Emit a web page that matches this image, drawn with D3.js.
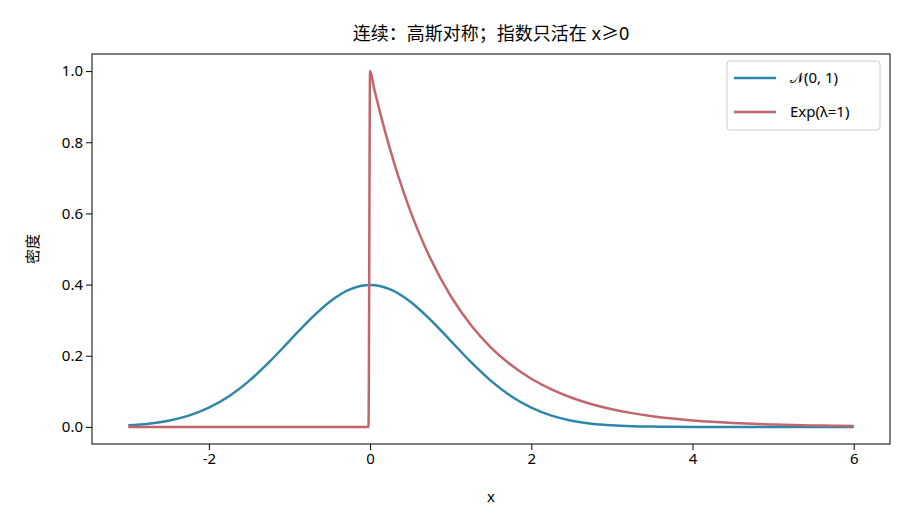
<!DOCTYPE html><html><head><meta charset="utf-8"><script src="https://d3js.org/d3.v7.min.js"></script>
<style>body{margin:0;background:#fff}text{font-family:"Noto Sans","Noto Sans CJK SC",sans-serif}</style></head><body><svg id="c" width="910" height="532"></svg><script>
const normX=[-3,-2.75,-2.5,-2.25,-2,-1.75,-1.5,-1.25,-1,-0.75,-0.5,-0.25,0,0.25,0.5,0.75,1,1.25,1.5,1.75,2,2.25,2.5,2.75,3,3.25,3.5,3.75,4,4.5,5,5.5,6];
const normY=[0.0044,0.0091,0.0175,0.0317,0.054,0.0863,0.1295,0.1826,0.242,0.3011,0.3521,0.3867,0.3989,0.3867,0.3521,0.3011,0.242,0.1826,0.1295,0.0863,0.054,0.0317,0.0175,0.0091,0.0044,0.002,0.0009,0.0004,0.0001,0,0,0,0];
const expX=[-3,-1.5,-0.02,0,0.05,0.1,0.15,0.2,0.3,0.4,0.5,0.6,0.75,1,1.25,1.5,1.75,2,2.25,2.5,2.75,3,3.25,3.5,3.75,4,4.25,4.5,4.75,5,5.25,5.5,5.75,6];
const expY=[0,0,0,1,0.9512,0.9048,0.8607,0.8187,0.7408,0.6703,0.6065,0.5488,0.4724,0.3679,0.2865,0.2231,0.1738,0.1353,0.1054,0.0821,0.0639,0.0498,0.0388,0.0302,0.0235,0.0183,0.0143,0.0111,0.0087,0.0067,0.0052,0.0041,0.0032,0.0025];
const xTicks=[-2,0,2,4,6], yTicks=[0,0.2,0.4,0.6,0.8,1.0];
const svg=d3.select("#c");
const L=92,R=890,T=54,B=444;
const x=d3.scaleLinear().domain([-3.45,6.45]).range([L,R]);
const y=d3.scaleLinear().domain([-0.048,1.048]).range([B,T]);
svg.append("g").attr("transform",`translate(0,${B})`).call(d3.axisBottom(x).tickValues(xTicks).tickFormat(d=>d<0?"-"+(-d):d).tickSizeOuter(0)).attr("font-size",15);
svg.append("g").attr("transform",`translate(${L},0)`).call(d3.axisLeft(y).tickValues(yTicks).tickFormat(d3.format(".1f")).tickSizeOuter(0)).attr("font-size",15);
svg.selectAll(".domain").remove();
svg.selectAll(".tick text").attr("fill","#000").style("font-family","'Noto Sans','DejaVu Sans',sans-serif");
svg.append("rect").attr("x",L).attr("y",T).attr("width",R-L).attr("height",B-T).attr("fill","none").attr("stroke","#000");
const line=d3.line().x(d=>x(d[0])).y(d=>y(d[1])).curve(d3.curveMonotoneX);
svg.append("path").attr("d",line(normX.map((v,i)=>[v,normY[i]]))).attr("fill","none").attr("stroke","#2e86ab").attr("stroke-width",2.5);
svg.append("path").attr("d",line(expX.map((v,i)=>[v,expY[i]]))).attr("fill","none").attr("stroke","#c1666b").attr("stroke-width",2.5);
svg.append("text").attr("x",(L+R)/2).attr("y",40).attr("text-anchor","middle").attr("font-size",18).text("连续：高斯对称；指数只活在 x≥0");
svg.append("text").attr("x",(L+R)/2).attr("y",502).attr("text-anchor","middle").attr("font-size",15).text("x");
svg.append("text").attr("transform",`translate(38,${(T+B)/2}) rotate(-90)`).attr("text-anchor","middle").attr("font-size",15).text("密度");
const lg=svg.append("g");
lg.append("rect").attr("x",727).attr("y",61).attr("width",153).attr("height",69).attr("rx",3).attr("fill","#fff").attr("stroke","#ccc");
[["𝒩(0, 1)","#2e86ab",78],["Exp(λ=1)","#c1666b",112]].forEach(([t,c,yy])=>{
lg.append("line").attr("x1",734).attr("x2",776).attr("y1",yy).attr("y2",yy).attr("stroke",c).attr("stroke-width",2.5);
lg.append("text").attr("x",790).attr("y",yy+5).attr("font-size",15).text(t);});
</script></body></html>
